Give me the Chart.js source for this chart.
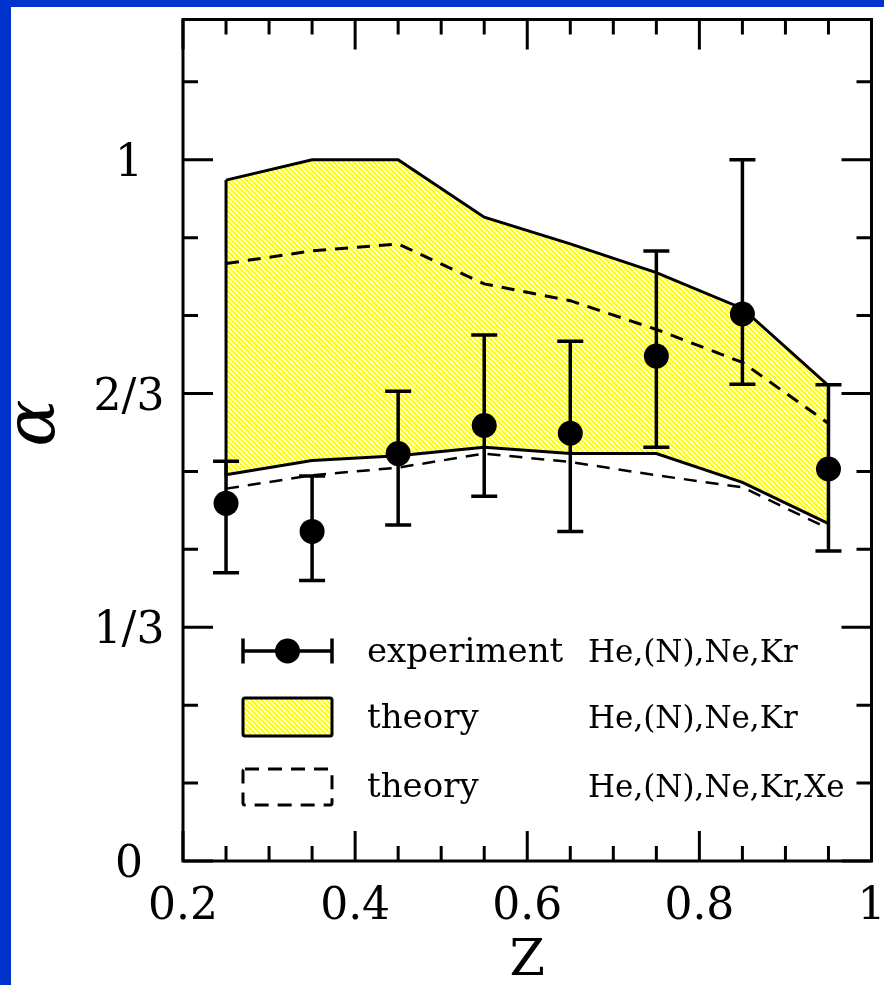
<!DOCTYPE html>
<html>
<head>
<meta charset="utf-8">
<script src="https://cdn.jsdelivr.net/npm/chart.js@4.4.1/dist/chart.umd.min.js"></script>
<style>
  html, body { margin: 0; padding: 0; background: #0033cc; overflow: hidden; }
  #wrap { position: absolute; left: 11px; top: 7px; width: 873px; height: 978px; background: #fff; }
</style>
</head>
<body>
<div id="wrap"><canvas id="alphaChart" width="873" height="978"></canvas></div>
<script>
// values
const zValues = [0.25, 0.35, 0.45, 0.55, 0.65, 0.75, 0.85, 0.95];
const expAlpha = [0.510, 0.470, 0.581, 0.621, 0.610, 0.720, 0.780, 0.559];
const expHigh = [0.570, 0.549, 0.670, 0.750, 0.741, 0.870, 1.000, 0.679];
const expLow = [0.411, 0.400, 0.479, 0.520, 0.470, 0.590, 0.680, 0.442];
const bandUpper = [0.971, 1.000, 1.000, 0.918, 0.880, 0.839, 0.788, 0.678];
const bandLower = [0.551, 0.571, 0.578, 0.590, 0.581, 0.581, 0.540, 0.481];
const xeUpper = [0.852, 0.870, 0.880, 0.823, 0.799, 0.758, 0.711, 0.624];
const xeLower = [0.531, 0.550, 0.561, 0.581, 0.569, 0.550, 0.533, 0.474];

// axes
const xMajorTicks = [0.2, 0.4, 0.6, 0.8, 1.0];
const xTickLabels = ['0.2', '0.4', '0.6', '0.8', '1'];
const xMinorTicks = [0.25, 0.3, 0.35, 0.45, 0.5, 0.55, 0.65, 0.7, 0.75, 0.85, 0.9, 0.95];
const yMajorTicks = [0, 1 / 3, 2 / 3, 1];
const yTickLabels = ['0', '1/3', '2/3', '1'];
const yMinorTicks = [1 / 9, 2 / 9, 4 / 9, 5 / 9, 7 / 9, 8 / 9, 10 / 9];

// legend
const legendLabels = ['experiment', 'theory', 'theory'];
const legendSets = ['He,(N),Ne,Kr', 'He,(N),Ne,Kr', 'He,(N),Ne,Kr,Xe'];

const serif = '"DejaVu Serif", "Liberation Serif", serif';

function makeHatch() {
    const c = document.createElement('canvas');
    c.width = 10;
    c.height = 10;
    const g = c.getContext('2d');
    g.fillStyle = '#ffff00';
    g.fillRect(0, 0, 10, 10);
    g.strokeStyle = '#ffffff';
    g.lineWidth = 1.5;
    for (let i = -10; i <= 10; i += 5) {
        g.beginPath();
        g.moveTo(i, 0);
        g.lineTo(i + 10, 10);
        g.stroke();
    }
    return g.createPattern(c, 'repeat');
}
const hatch = makeHatch();

// band polygon: upper edge left->right, lower edge right->left, closed
const bandShape = zValues.map((z, i) => ({ x: z, y: bandUpper[i] }))
    .concat(zValues.map((z, i) => ({ x: z, y: bandLower[i] })).reverse());
bandShape.push({ x: zValues[0], y: bandUpper[0] });

const pairs = (ys) => zValues.map((z, i) => ({ x: z, y: ys[i] }));

const axisDecor = {
    id: 'axisDecor',
    afterDatasetsDraw(chart) {
        const { ctx, chartArea: a, scales: { x, y } } = chart;
        ctx.save();
        ctx.strokeStyle = '#000';
        ctx.lineCap = 'butt';

        // error bars
        ctx.lineWidth = 3.5;
        zValues.forEach((z, i) => {
            const px = x.getPixelForValue(z);
            const top = y.getPixelForValue(expHigh[i]);
            const bot = y.getPixelForValue(expLow[i]);
            ctx.beginPath();
            ctx.moveTo(px, top); ctx.lineTo(px, bot);
            ctx.moveTo(px - 13, top); ctx.lineTo(px + 13, top);
            ctx.moveTo(px - 13, bot); ctx.lineTo(px + 13, bot);
            ctx.stroke();
        });

        // frame
        ctx.lineWidth = 3;
        ctx.strokeRect(a.left, a.top, a.right - a.left, a.bottom - a.top);

        // ticks, all pointing inward
        ctx.beginPath();
        const xt = (v, len) => {
            const px = x.getPixelForValue(v);
            ctx.moveTo(px, a.bottom); ctx.lineTo(px, a.bottom - len);
            ctx.moveTo(px, a.top); ctx.lineTo(px, a.top + len);
        };
        const yt = (v, len) => {
            const py = y.getPixelForValue(v);
            ctx.moveTo(a.left, py); ctx.lineTo(a.left + len, py);
            ctx.moveTo(a.right, py); ctx.lineTo(a.right - len, py);
        };
        xMajorTicks.forEach(v => xt(v, 30));
        xMinorTicks.forEach(v => xt(v, 15));
        yMajorTicks.forEach(v => yt(v, 30));
        yMinorTicks.forEach(v => yt(v, 15));
        ctx.stroke();

        // tick labels
        ctx.fillStyle = '#000';
        ctx.font = '44px ' + serif;
        ctx.textAlign = 'center';
        ctx.textBaseline = 'alphabetic';
        xMajorTicks.forEach((v, i) => {
            ctx.fillText(xTickLabels[i], x.getPixelForValue(v), a.bottom + 58);
        });
        yMajorTicks.forEach((v, i) => {
            ctx.fillText(yTickLabels[i], a.left - 54, y.getPixelForValue(v) + 16);
        });

        // axis titles
        ctx.font = '51px ' + serif;
        ctx.fillText('Z', (a.left + a.right) / 2, a.bottom + 114);
        ctx.save();
        ctx.translate(25, 416);
        ctx.rotate(-Math.PI / 2);
        ctx.font = 'italic 70px ' + serif;
        ctx.textBaseline = 'middle';
        ctx.fillText('α', 0, 0);
        ctx.restore();

        // legend
        const lx0 = 232, lx1 = 321;
        const rowY = [644, 710, 780];
        const textY = [655, 721, 790];
        // row 1: point with error bar
        ctx.lineWidth = 3.5;
        ctx.beginPath();
        ctx.moveTo(lx0, rowY[0]); ctx.lineTo(lx1, rowY[0]);
        ctx.moveTo(lx0, rowY[0] - 12.5); ctx.lineTo(lx0, rowY[0] + 12.5);
        ctx.moveTo(lx1, rowY[0] - 12.5); ctx.lineTo(lx1, rowY[0] + 12.5);
        ctx.stroke();
        ctx.beginPath();
        ctx.arc((lx0 + lx1) / 2, rowY[0], 12.5, 0, Math.PI * 2);
        ctx.fill();
        // row 2: hatched box
        ctx.lineWidth = 3;
        ctx.fillStyle = hatch;
        ctx.beginPath();
        ctx.roundRect(lx0, rowY[1] - 19, lx1 - lx0, 38, 2);
        ctx.fill();
        ctx.stroke();
        // row 3: dashed box
        ctx.setLineDash([14, 9]);
        ctx.beginPath();
        ctx.roundRect(lx0, rowY[2] - 18, lx1 - lx0, 36, 2);
        ctx.stroke();
        ctx.setLineDash([]);

        ctx.fillStyle = '#000';
        ctx.font = '34px ' + serif;
        ctx.textAlign = 'left';
        legendLabels.forEach((t, i) => ctx.fillText(t, 356, textY[i]));
        ctx.font = '31px ' + serif;
        legendSets.forEach((t, i) => ctx.fillText(t, 577, textY[i]));
        ctx.restore();
    }
};

new Chart(document.getElementById('alphaChart'), {
    type: 'scatter',
    data: {
        datasets: [
            {
                label: 'experiment',
                data: pairs(expAlpha),
                backgroundColor: '#000',
                borderWidth: 0,
                pointRadius: 12.5,
                order: 0
            },
            {
                label: 'theory Xe upper',
                data: pairs(xeUpper),
                showLine: true,
                borderColor: '#000',
                borderWidth: 3,
                borderDash: [13, 9],
                pointRadius: 0,
                fill: false,
                order: 1
            },
            {
                label: 'theory Xe lower',
                data: pairs(xeLower),
                showLine: true,
                borderColor: '#000',
                borderWidth: 2.5,
                borderDash: [13, 9],
                pointRadius: 0,
                fill: false,
                order: 1
            },
            {
                label: 'theory',
                data: bandShape,
                showLine: true,
                borderColor: '#000',
                borderWidth: 3,
                backgroundColor: hatch,
                pointRadius: 0,
                fill: 'shape',
                order: 2
            }
        ]
    },
    options: {
        responsive: false,
        animation: false,
        devicePixelRatio: 1,
        layout: { padding: { left: 172, top: 11, right: 7, bottom: 124 } },
        scales: {
            x: { type: 'linear', min: 0.2, max: 1.0, display: false },
            y: { type: 'linear', min: 0, max: 1.2, display: false }
        },
        plugins: {
            legend: { display: false },
            tooltip: { enabled: false }
        }
    },
    plugins: [axisDecor]
});
</script>
</body>
</html>
